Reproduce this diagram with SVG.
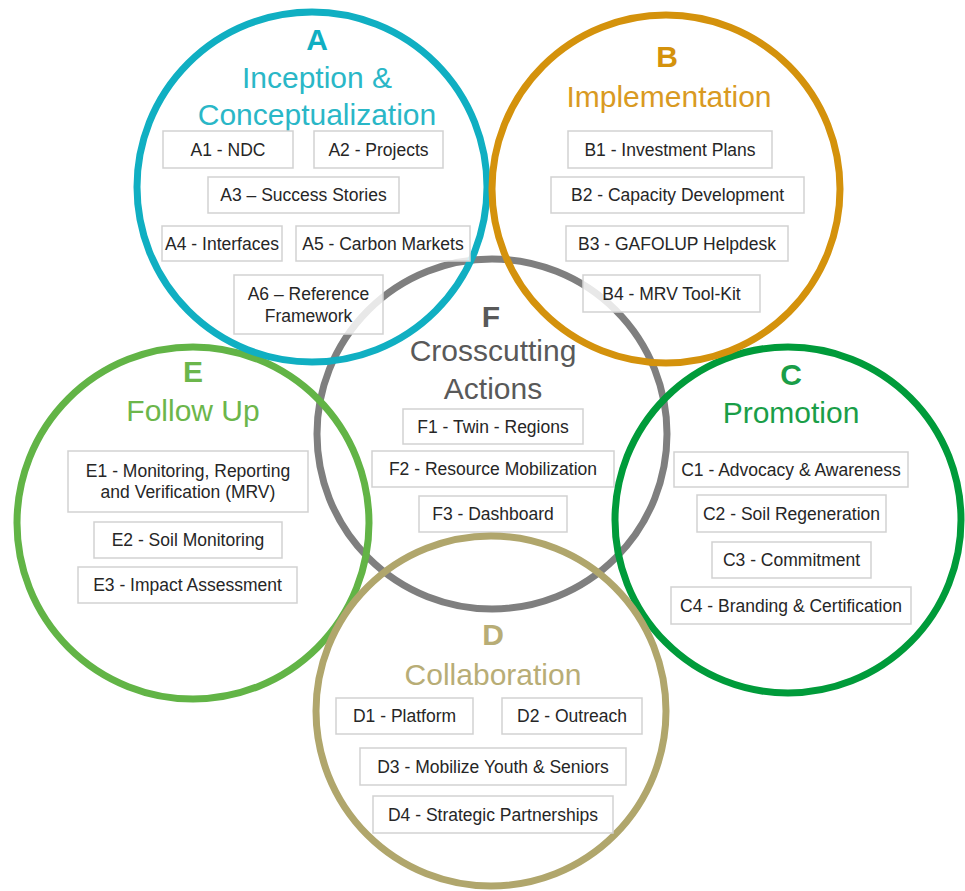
<svg xmlns="http://www.w3.org/2000/svg" width="965" height="891" viewBox="0 0 965 891">
<style>
.ring{fill:none;stroke-width:7}
.box{fill:#fff;fill-opacity:0.82;stroke:#D2D2D2;stroke-width:1.5}
.bt{font-family:"Liberation Sans",Arial,sans-serif;font-size:17.5px;fill:#262626;text-anchor:middle}
.ltr{font-family:"Liberation Sans",Arial,sans-serif;font-size:30px;font-weight:bold;text-anchor:middle}
.ttl{font-family:"Liberation Sans",Arial,sans-serif;font-size:30px;text-anchor:middle}
</style>
<rect width="965" height="891" fill="#fff"/>
<g id="F">
<circle class="ring" cx="492" cy="434" r="175" stroke="#7F7F7F"/>
<text class="ltr" x="491" y="327" fill="#595959">F</text>
<text class="ttl" x="493" y="361" fill="#595959">Crosscutting</text>
<text class="ttl" x="493" y="399" fill="#595959">Actions</text>
<rect class="box" x="403" y="409" width="180" height="35"/><text class="bt" x="493" y="433">F1 - Twin - Regions</text>
<rect class="box" x="372" y="451" width="242" height="36"/><text class="bt" x="493" y="475">F2 - Resource Mobilization</text>
<rect class="box" x="419" y="496" width="148" height="36"/><text class="bt" x="493" y="520">F3 - Dashboard</text>
</g>
<g id="E">
<circle class="ring" cx="193" cy="523" r="176" stroke="#62B446"/>
<text class="ltr" x="193" y="382" fill="#6CB64B">E</text>
<text class="ttl" x="193" y="421" fill="#6CB64B">Follow Up</text>
<rect class="box" x="68" y="451" width="240" height="61"/><text class="bt" x="188" y="477">E1 - Monitoring, Reporting</text><text class="bt" x="188" y="498">and Verification (MRV)</text>
<rect class="box" x="94" y="522" width="188" height="36"/><text class="bt" x="188" y="546">E2 - Soil Monitoring</text>
<rect class="box" x="78" y="567" width="219" height="36"/><text class="bt" x="187.5" y="591">E3 - Impact Assessment</text>
</g>
<g id="C">
<circle class="ring" cx="788" cy="520" r="173" stroke="#009B3A"/>
<text class="ltr" x="791" y="385" fill="#1A9E48">C</text>
<text class="ttl" x="791" y="423" fill="#1A9E48">Promotion</text>
<rect class="box" x="674" y="452" width="234" height="35"/><text class="bt" x="791" y="476">C1 - Advocacy &amp; Awareness</text>
<rect class="box" x="697" y="495" width="189" height="37"/><text class="bt" x="791.5" y="520">C2 - Soil Regeneration</text>
<rect class="box" x="712" y="542" width="159" height="36"/><text class="bt" x="791.5" y="566">C3 - Commitment</text>
<rect class="box" x="671" y="587" width="240" height="37"/><text class="bt" x="791" y="612">C4 - Branding &amp; Certification</text>
</g>
<g id="D">
<circle class="ring" cx="491" cy="711" r="175" stroke="#B0A66C"/>
<text class="ltr" x="493" y="645" fill="#B8AD76">D</text>
<text class="ttl" x="493" y="685" fill="#B8AD76">Collaboration</text>
<rect class="box" x="336" y="698" width="137" height="36"/><text class="bt" x="404.5" y="722">D1 - Platform</text>
<rect class="box" x="502" y="698" width="140" height="36"/><text class="bt" x="572" y="722">D2 - Outreach</text>
<rect class="box" x="360" y="748" width="266" height="37"/><text class="bt" x="493" y="773">D3 - Mobilize Youth &amp; Seniors</text>
<rect class="box" x="373" y="796" width="240" height="37"/><text class="bt" x="493" y="821">D4 - Strategic Partnerships</text>
</g>
<g id="A">
<circle class="ring" cx="312" cy="187" r="175" stroke="#10AFC2"/>
<text class="ltr" x="317" y="50" fill="#10AFC2">A</text>
<text class="ttl" x="317" y="88" fill="#2AB7C7">Inception &amp;</text>
<text class="ttl" x="317" y="125" fill="#2AB7C7">Conceptualization</text>
<rect class="box" x="163" y="131" width="130" height="37"/><text class="bt" x="228" y="156">A1 - NDC</text>
<rect class="box" x="314" y="131" width="129" height="37"/><text class="bt" x="378.5" y="156">A2 - Projects</text>
<rect class="box" x="208" y="177" width="191" height="36"/><text class="bt" x="303.5" y="201">A3 – Success Stories</text>
<rect class="box" x="162" y="226" width="120" height="35"/><text class="bt" x="222" y="250">A4 - Interfaces</text>
<rect class="box" x="296" y="226" width="174" height="35"/><text class="bt" x="383" y="250">A5 - Carbon Markets</text>
<rect class="box" x="234" y="275" width="149" height="59"/><text class="bt" x="308.5" y="300">A6 – Reference</text><text class="bt" x="308.5" y="322">Framework</text>
</g>
<g id="B">
<circle class="ring" cx="666" cy="189" r="174" stroke="#D4920C"/>
<text class="ltr" x="667" y="67" fill="#D4920C">B</text>
<text class="ttl" x="669" y="107" fill="#D99A22">Implementation</text>
<rect class="box" x="568" y="131" width="204" height="37"/><text class="bt" x="670" y="156">B1 - Investment Plans</text>
<rect class="box" x="551" y="177" width="253" height="36"/><text class="bt" x="677.5" y="201">B2 - Capacity Development</text>
<rect class="box" x="566" y="226" width="222" height="35"/><text class="bt" x="677" y="250">B3 - GAFOLUP Helpdesk</text>
<rect class="box" x="583" y="275" width="177" height="37"/><text class="bt" x="671.5" y="300">B4 - MRV Tool-Kit</text>
</g>
</svg>
